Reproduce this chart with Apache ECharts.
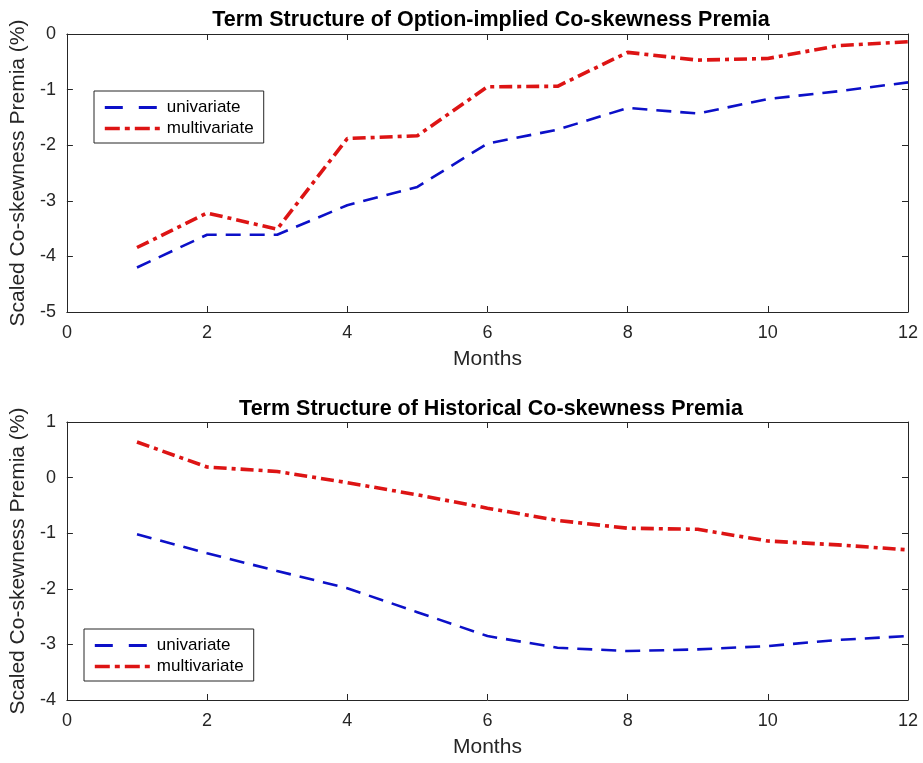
<!DOCTYPE html>
<html><head><meta charset="utf-8">
<script src="https://cdn.jsdelivr.net/npm/echarts@6/dist/echarts.min.js"></script>
<style>html,body{margin:0;padding:0;background:#fff}#c{width:923px;height:763px}</style>
</head><body><div id="c"></div>
<script>
const months = [1,2,3,4,5,6,7,8,9,10,11,12];
const impliedUni = [-4.2,-3.61,-3.61,-3.08,-2.75,-1.97,-1.72,-1.33,-1.43,-1.17,-1.03,-0.87];
const impliedMulti = [-3.84,-3.22,-3.51,-1.88,-1.83,-0.95,-0.94,-0.33,-0.47,-0.44,-0.21,-0.14];
const histUni = [-1.02,-1.36,-1.68,-1.99,-2.42,-2.85,-3.06,-3.12,-3.09,-3.03,-2.92,-2.85];
const histMulti = [0.64,0.19,0.11,-0.09,-0.31,-0.55,-0.77,-0.91,-0.93,-1.14,-1.21,-1.30];
const titles = ['Term Structure of Option-implied Co-skewness Premia','Term Structure of Historical Co-skewness Premia'];
const seriesNames = ['univariate','multivariate'];
const xName = 'Months';
const yName = 'Scaled Co-skewness Premia (%)';

const FONT = 'Liberation Sans, Arial, sans-serif';
const AX = '#262626';
const BLUE = '#0c10c8';
const RED = '#dd1414';
const pair = arr => arr.map((v,i)=>[months[i], v]);

const grids = [
  {left:65, top:34, width:843, height:278},
  {left:65, top:422, width:843, height:278}
];
function xAx(g, pos, labels){
  return {type:'value', gridIndex:g, position:pos, min:0, max:12, interval:2,
    name: labels ? xName : '', nameLocation:'middle', nameGap:37,
    nameTextStyle:{fontFamily:FONT, fontSize:21, color:'#262626'},
    axisLine:{show:true, onZero:false, lineStyle:{color:AX, width:1}},
    axisTick:{show:true, inside:true, length:6, lineStyle:{color:AX}},
    axisLabel:{show:labels, fontFamily:FONT, fontSize:18, color:'#262626', margin:12},
    splitLine:{show:false}};
}
function yAx(g, pos, labels, mn, mx){
  return {type:'value', gridIndex:g, position:pos, min:mn, max:mx, interval:1,
    name: labels ? yName : '', nameLocation:'middle', nameGap:36,
    nameTextStyle:{fontFamily:FONT, fontSize:21, color:'#262626'},
    axisLine:{show:true, onZero:false, lineStyle:{color:AX, width:1}},
    axisTick:{show:true, inside:true, length:6, lineStyle:{color:AX}},
    axisLabel:{show:labels, fontFamily:FONT, fontSize:18, color:'#262626', margin:11},
    splitLine:{show:false}};
}
function line(name, data, xi, yi, color, type, width){
  return {name, type:'line', data:pair(data), xAxisIndex:xi, yAxisIndex:yi,
    symbol:'none', showSymbol:false, silent:true, animation:false,
    lineStyle:{color, width, type, cap:'butt'}, itemStyle:{color}};
}
const DASH = [15,9];
const DASHDOT = [13,5,4,5];
const legendData = [
  {name:seriesNames[0], lineStyle:{width:3, type:[18,16], color:BLUE}},
  {name:seriesNames[1], lineStyle:{width:3.6, type:[15,5,5,5], color:RED}}
];
const legendBase = {orient:'vertical', data:legendData, itemWidth:57, itemHeight:14, itemGap:4,
  borderColor:'#262626', borderWidth:1, backgroundColor:'#fff', padding:[8,10,6,9], selectedMode:false,
  itemStyle:{opacity:0},
  textStyle:{fontFamily:FONT, fontSize:17, color:'#000'}};

const option = {
  animation:false,
  title:[
    {text:titles[0], left:486, top:4, textAlign:'center', textStyle:{fontFamily:FONT, fontSize:21.5, fontWeight:'bold', color:'#000'}},
    {text:titles[1], left:486, top:393, textAlign:'center', textStyle:{fontFamily:FONT, fontSize:21.5, fontWeight:'bold', color:'#000'}}
  ],
  grid: grids,
  legend:[
    Object.assign({}, legendBase, {left:94, top:91}),
    Object.assign({}, legendBase, {left:84, top:629})
  ],
  xAxis:[xAx(0,'bottom',true), xAx(0,'top',false), xAx(1,'bottom',true), xAx(1,'top',false)],
  yAxis:[yAx(0,'left',true,-5,0), yAx(0,'right',false,-5,0), yAx(1,'left',true,-4,1), yAx(1,'right',false,-4,1)],
  series:[
    line(seriesNames[0], impliedUni, 0, 0, BLUE, DASH, 2.6),
    line(seriesNames[1], impliedMulti, 0, 0, RED, DASHDOT, 3.6),
    line(seriesNames[0], histUni, 2, 2, BLUE, DASH, 2.6),
    line(seriesNames[1], histMulti, 2, 2, RED, DASHDOT, 3.6)
  ]
};
const chart = echarts.init(document.getElementById('c'), null, {renderer:'canvas'});
chart.setOption(option);
</script></body></html>
